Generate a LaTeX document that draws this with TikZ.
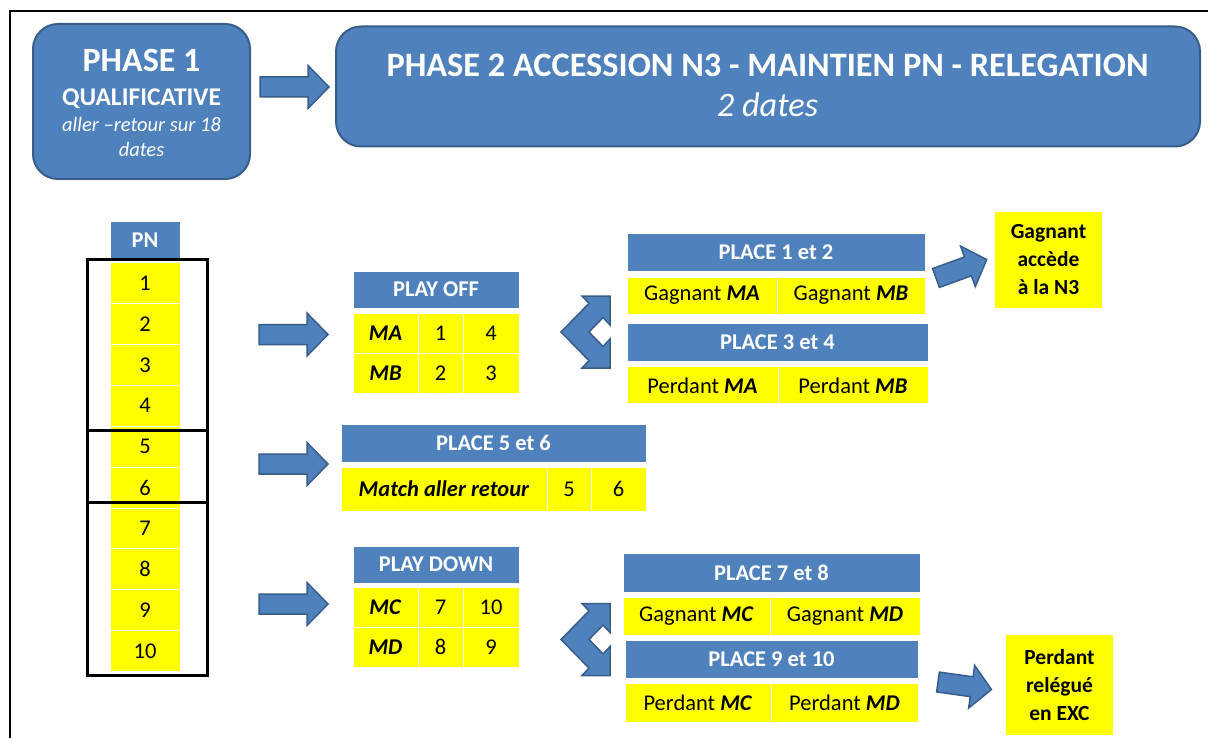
\documentclass[tikz,border=0pt]{standalone}
\usepackage{fontspec}
\setmainfont{Carlito}
\definecolor{hblue}{RGB}{79,129,189}
\definecolor{darkb}{RGB}{56,93,138}
\definecolor{ylw}{RGB}{255,255,0}
\begin{document}
\begin{tikzpicture}[x=1pt,y=-1pt,
  bigbox/.style={fill=hblue,draw=darkb,line width=2pt,rounded corners=25pt,inner sep=0},
  btxt/.style={text=white,anchor=base,inner sep=0},
  hdr/.style={fill=hblue,draw=white,line width=0.8pt,text=white,inner sep=0,
     font=\fontsize{22.5}{24}\selectfont\bfseries},
  ycell/.style={fill=ylw,draw=white,line width=0.8pt,inner sep=0,
     font=\fontsize{22.5}{24}\selectfont},
  resbox/.style={fill=ylw,inner sep=0,align=center,
     font=\fontsize{21.5}{28}\selectfont\bfseries},
  arr/.style={fill=hblue,draw=darkb,line width=1.5pt,line join=miter},
  grp/.style={draw=black,line width=3pt},
  barrow/.pic={\draw[arr] (0,-10) -- (48,-10) -- (48,-21.5) -- (69,0) -- (48,21.5) -- (48,10) -- (0,10) -- cycle;},
  sarrow/.pic={\draw[arr] (0,-10) -- (34,-10) -- (34,-21.5) -- (54,0) -- (34,21.5) -- (34,10) -- (0,10) -- cycle;}
]
\useasboundingbox (0,0) rectangle (1208,738);
\draw[line width=1.5pt] (10,738) -- (10,11) -- (1208,11);

% Phase boxes
\node[bigbox,minimum width=217,minimum height=155] (p1) at (141.5,101.5) {};
\node[btxt,font={\fontsize{34}{36}\selectfont\bfseries}] (p1a) at (141.5,72) {PHASE 1};
\node[btxt,font={\fontsize{25.5}{27}\selectfont\bfseries}] (p1b) at (141.5,106) {QUALIFICATIVE};
\node[btxt,font={\fontsize{20.5}{22}\selectfont\itshape}] (p1c) at (141.5,132) {aller –retour sur 18};
\node[btxt,font={\fontsize{20.5}{22}\selectfont\itshape}] (p1d) at (141.5,156.5) {dates};
\node[bigbox,minimum width=864,minimum height=120] (p2) at (768,86.5) {};
\node[btxt,font={\fontsize{34.3}{36}\selectfont\bfseries}] (p2a) at (767.5,77) {PHASE 2 ACCESSION N3 - MAINTIEN PN - RELEGATION};
\node[btxt,font={\fontsize{34.3}{36}\selectfont\itshape}] (p2b) at (767.5,117) {2 dates};
\pic at (260,87) {barrow};

% PN column
\node[hdr,minimum width=70,minimum height=37] (pn) at (145,240) {PN};
\foreach \i in {1,...,10}{
  \node[ycell,minimum width=70,minimum height=40.9] (r\i) at (145,{283+40.9*(\i-1)}) {\i};
}
\draw[grp] (87,260) rectangle (207,430.7);
\draw[grp] (87,430.7) rectangle (207,502.7);
\draw[grp] (87,502.7) rectangle (207,675);

% row arrows
\pic at (259,334.5) {barrow};
\pic at (259,464) {barrow};
\pic at (259,604) {barrow};

% PLAY OFF
\node[hdr,minimum width=166,minimum height=37] (po) at (436,289.5) {PLAY OFF};
\node[ycell,minimum width=65,minimum height=40] (ma) at (385.5,333) {\textbf{\textit{MA}}};
\node[ycell,minimum width=45,minimum height=40] (ma1) at (440.5,333) {1};
\node[ycell,minimum width=56,minimum height=40] (ma2) at (491,333) {4};
\node[ycell,minimum width=65,minimum height=40] (mb) at (385.5,373) {\textbf{\textit{MB}}};
\node[ycell,minimum width=45,minimum height=40] (mb1) at (440.5,373) {2};
\node[ycell,minimum width=56,minimum height=40] (mb2) at (491,373) {3};

% PLACE 5 et 6
\node[hdr,minimum width=305,minimum height=38] (p56) at (493.5,443) {PLACE 5 et 6};
\node[ycell,minimum width=206,minimum height=44] (mar) at (444,489) {\textbf{\textit{Match aller retour}}};
\node[ycell,minimum width=44,minimum height=44] (m5) at (569,489) {5};
\node[ycell,minimum width=55,minimum height=44] (m6) at (618.5,489) {6};

% PLAY DOWN
\node[hdr,minimum width=166,minimum height=37] (pd) at (436,564.5) {PLAY DOWN};
\node[ycell,minimum width=65,minimum height=40] (mc) at (385.5,607) {\textbf{\textit{MC}}};
\node[ycell,minimum width=45,minimum height=40] (mc1) at (440.5,607) {7};
\node[ycell,minimum width=56,minimum height=40] (mc2) at (491,607) {10};
\node[ycell,minimum width=65,minimum height=40] (md) at (385.5,647) {\textbf{\textit{MD}}};
\node[ycell,minimum width=45,minimum height=40] (md1) at (440.5,647) {8};
\node[ycell,minimum width=56,minimum height=40] (md2) at (491,647) {9};

% PLACE 1-4
\node[hdr,minimum width=298,minimum height=38] (p12) at (776,252) {PLACE 1 et 2};
\node[ycell,minimum width=150,minimum height=37] (gma) at (702,295.5) {Gagnant \textbf{\textit{MA}}};
\node[ycell,minimum width=148,minimum height=37] (gmb) at (851,295.5) {Gagnant \textbf{\textit{MB}}};
\node[hdr,minimum width=301,minimum height=38] (p34) at (777.5,342) {PLACE 3 et 4};
\node[ycell,minimum width=151,minimum height=37] (pma) at (702.5,385.3) {Perdant \textbf{\textit{MA}}};
\node[ycell,minimum width=150,minimum height=37] (pmb) at (853,385.3) {Perdant \textbf{\textit{MB}}};

% PLACE 7-10
\node[hdr,minimum width=297,minimum height=39] (p78) at (771.5,572.5) {PLACE 7 et 8};
\node[ycell,minimum width=147,minimum height=38] (gmc) at (696.5,616) {Gagnant \textbf{\textit{MC}}};
\node[ycell,minimum width=150,minimum height=38] (gmd) at (845,616) {Gagnant \textbf{\textit{MD}}};
\node[hdr,minimum width=293,minimum height=38] (p910) at (771.5,659) {PLACE 9 et 10};
\node[ycell,minimum width=146,minimum height=39] (pmc) at (698,702.5) {Perdant \textbf{\textit{MC}}};
\node[ycell,minimum width=147,minimum height=39] (pmd) at (844.5,702.5) {Perdant \textbf{\textit{MD}}};

% chevrons
\draw[arr] (561,332) -- (589,303.4) -- (582,296) -- (610,296) -- (610,325) -- (603,317.6)
  -- (589,332) -- (603,346.4) -- (610,339) -- (610,368) -- (582,368) -- (589,360.6) -- cycle;
\begin{scope}[yshift=-307.5pt]
\draw[arr] (561,332) -- (589,303.4) -- (582,296) -- (610,296) -- (610,325) -- (603,317.6)
  -- (589,332) -- (603,346.4) -- (610,339) -- (610,368) -- (582,368) -- (589,360.6) -- cycle;
\end{scope}

% results
\node[resbox,minimum width=107,minimum height=96] (gw) at (1048.5,260) {Gagnant\\accède\\à la N3};
\node[resbox,minimum width=107,minimum height=100] (pl) at (1059.5,685) {Perdant\\relégué\\en EXC};
\pic[rotate=20] at (936,278) {sarrow};
\pic[rotate=-8] at (938,682) {sarrow};
\end{tikzpicture}
\end{document}
